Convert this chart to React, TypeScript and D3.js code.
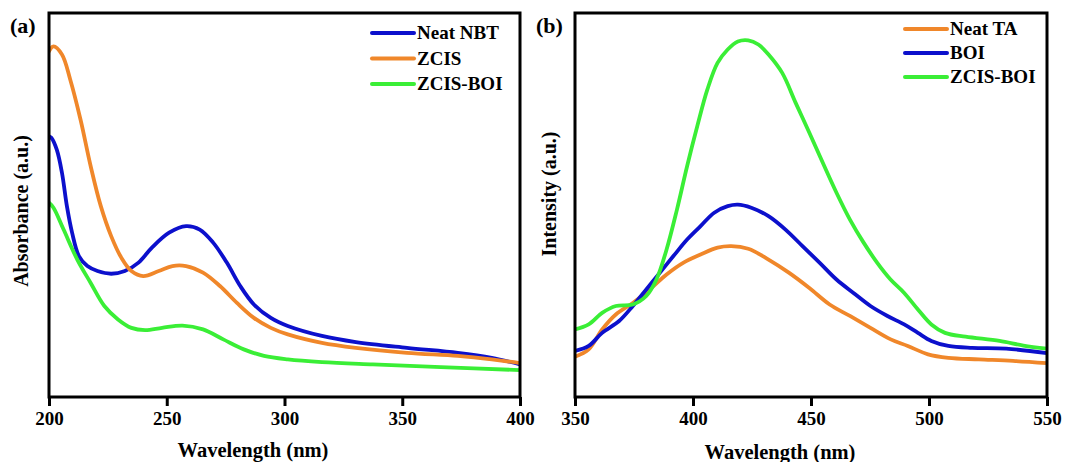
import React, { useEffect, useRef } from "react";
import * as d3 from "d3";

// ---------- Panel (a): UV-Vis absorbance ----------
const nbtX = [200, 201, 203.3, 205.5, 207.6, 209.8, 212.7, 216.3, 220.6, 226.4, 232.2, 238, 243.7, 251, 258.2, 264, 269.7, 275.5, 281.2, 287, 294.2, 301.4, 315.9, 330.3, 352, 373.6, 388, 400];
const nbtY = [0.679, 0.675, 0.644, 0.584, 0.497, 0.428, 0.367, 0.341, 0.328, 0.321, 0.328, 0.35, 0.389, 0.428, 0.445, 0.436, 0.402, 0.35, 0.289, 0.241, 0.206, 0.185, 0.159, 0.143, 0.128, 0.115, 0.102, 0.085];

const zcisX = [200, 201.9, 205.5, 209, 213.4, 217.7, 222, 226.4, 230.7, 235, 240, 246.6, 252.4, 258.2, 265.4, 272.6, 279.8, 287, 294.2, 301.4, 315.9, 330.3, 352, 373.6, 388, 400];
const zcisY = [0.9, 0.913, 0.892, 0.827, 0.722, 0.601, 0.497, 0.419, 0.363, 0.328, 0.315, 0.328, 0.341, 0.341, 0.324, 0.289, 0.245, 0.206, 0.18, 0.163, 0.141, 0.128, 0.115, 0.107, 0.098, 0.088];

const zcisBoiAX = [200, 201.9, 206.2, 212, 217.7, 223.5, 229.3, 235, 240.8, 248, 256.7, 265.4, 274, 282.7, 291.3, 301.4, 315.9, 337.5, 366.4, 400];
const zcisBoiAY = [0.506, 0.493, 0.436, 0.358, 0.297, 0.237, 0.202, 0.18, 0.174, 0.18, 0.186, 0.176, 0.15, 0.124, 0.107, 0.098, 0.091, 0.085, 0.078, 0.07];

// ---------- Panel (b): PL intensity ----------
const taX = [350, 355.8, 361.5, 367.3, 374.5, 381.7, 388.8, 396, 403.2, 410.4, 416.2, 423.4, 432, 440.6, 449.3, 457.9, 466.5, 475.2, 483.8, 491, 499.6, 508.2, 521.2, 535.6, 550];
const taY = [0.105, 0.124, 0.176, 0.215, 0.245, 0.28, 0.319, 0.35, 0.371, 0.389, 0.393, 0.386, 0.358, 0.324, 0.284, 0.241, 0.211, 0.18, 0.15, 0.133, 0.111, 0.102, 0.098, 0.094, 0.088];

const boiX = [350, 355.8, 361.5, 368.7, 374.5, 380.2, 386, 391.7, 397.5, 403.2, 409, 414.7, 419, 424.7, 432, 439.2, 446.4, 453.6, 460.8, 468, 475.2, 482.4, 489.5, 495.3, 501, 508.2, 518.3, 532.7, 550];
const boiY = [0.12, 0.133, 0.167, 0.198, 0.237, 0.28, 0.324, 0.367, 0.41, 0.445, 0.48, 0.497, 0.501, 0.493, 0.471, 0.436, 0.393, 0.35, 0.306, 0.271, 0.237, 0.211, 0.189, 0.167, 0.146, 0.133, 0.128, 0.126, 0.114];

const zcisBoiBX = [350, 355.8, 361.5, 367.3, 374.5, 380.2, 384.5, 388.8, 393.2, 397.5, 401.8, 406.1, 410.4, 414.7, 419, 423.4, 427.7, 432, 437.8, 443.5, 449.3, 455, 460.8, 466.5, 472.3, 478, 483.7, 489.5, 495.3, 501, 506.8, 515.5, 529.9, 540, 550];
const zcisBoiBY = [0.176, 0.189, 0.219, 0.237, 0.241, 0.263, 0.306, 0.384, 0.488, 0.601, 0.705, 0.801, 0.87, 0.905, 0.926, 0.929, 0.918, 0.892, 0.844, 0.766, 0.688, 0.61, 0.532, 0.462, 0.402, 0.35, 0.306, 0.271, 0.228, 0.189, 0.167, 0.157, 0.146, 0.134, 0.126];

const ticksA = [200, 250, 300, 350, 400];
const ticksB = [350, 400, 450, 500, 550];

const BLUE = "#0c10cc";
const ORANGE = "#f0872a";
const GREEN = "#3aee36";
const FONT = "'Liberation Serif', 'Times New Roman', serif";

type Series = { name: string; xs: number[]; ys: number[]; color: string };

const panels = [
  {
    id: "a",
    label: "(a)",
    labelX: 10,
    left: 49,
    right: 520,
    domain: [200, 400] as [number, number],
    ticks: ticksA,
    yTitle: "Absorbance (a.u.)",
    yTitleX: 28,
    yTitleY: 211,
    legendX: 372,
    legendY: 33,
    legendGap: 25.5,
    series: [
      { name: "Neat NBT", xs: nbtX, ys: nbtY, color: BLUE },
      { name: "ZCIS", xs: zcisX, ys: zcisY, color: ORANGE },
      { name: "ZCIS-BOI", xs: zcisBoiAX, ys: zcisBoiAY, color: GREEN },
    ] as Series[],
    xTitleX: 253,
    xTitleY: 457,
  },
  {
    id: "b",
    label: "(b)",
    labelX: 536,
    left: 575,
    right: 1047,
    domain: [350, 550] as [number, number],
    ticks: ticksB,
    yTitle: "Intensity (a.u.)",
    yTitleX: 556,
    yTitleY: 194,
    legendX: 905,
    legendY: 29,
    legendGap: 24,
    series: [
      { name: "Neat TA", xs: taX, ys: taY, color: ORANGE },
      { name: "BOI", xs: boiX, ys: boiY, color: BLUE },
      { name: "ZCIS-BOI", xs: zcisBoiBX, ys: zcisBoiBY, color: GREEN },
    ] as Series[],
    xTitleX: 780,
    xTitleY: 459,
  },
];

const TOP = 13;
const BOTTOM = 397;

function Panel({ p }: { p: (typeof panels)[number] }) {
  const axisRef = useRef<SVGGElement>(null);
  const x = d3.scaleLinear().domain(p.domain).range([p.left, p.right]);
  const y = d3.scaleLinear().domain([0, 1]).range([BOTTOM, TOP]);

  useEffect(() => {
    if (!axisRef.current) return;
    const g = d3.select(axisRef.current);
    g.selectAll("*").remove();
    g.call(d3.axisBottom(x).tickValues(p.ticks).tickSize(9).tickSizeOuter(0).tickPadding(6).tickFormat(d3.format("d")) as any);
    g.select(".domain").remove();
    g.selectAll(".tick line").attr("stroke", "#000").attr("stroke-width", 3);
    g.selectAll(".tick text")
      .attr("fill", "#000")
      .attr("font-family", FONT)
      .attr("font-weight", "bold")
      .attr("font-size", 19);
  }, []);

  const line = d3
    .line<[number, number]>()
    .x((d) => x(d[0]))
    .y((d) => y(d[1]))
    .curve(d3.curveCatmullRom.alpha(0.5));

  const clipId = `clip-${p.id}`;
  return (
    <g>
      <defs>
        <clipPath id={clipId}>
          <rect x={p.left} y={TOP} width={p.right - p.left} height={BOTTOM - TOP} />
        </clipPath>
      </defs>
      <g clipPath={`url(#${clipId})`}>
        {p.series.map((s) => (
          <path
            key={s.name}
            d={line(s.xs.map((v, i) => [v, s.ys[i]] as [number, number])) || ""}
            fill="none"
            stroke={s.color}
            strokeWidth={3.8}
            strokeLinejoin="round"
            strokeLinecap="round"
          />
        ))}
      </g>
      <rect x={p.left} y={TOP} width={p.right - p.left} height={BOTTOM - TOP} fill="none" stroke="#000" strokeWidth={3} />
      <g ref={axisRef} transform={`translate(0,${BOTTOM})`} />
      {p.series.map((s, i) => (
        <g key={s.name} transform={`translate(${p.legendX},${p.legendY + i * p.legendGap})`}>
          <line x1={0} x2={42} y1={0} y2={0} stroke={s.color} strokeWidth={4} strokeLinecap="round" />
          <text x={45} y={6} fontFamily={FONT} fontWeight="bold" fontSize={19} fill="#000">
            {s.name}
          </text>
        </g>
      ))}
      <text x={p.labelX} y={33} fontFamily={FONT} fontWeight="bold" fontSize={22} fill="#000">
        {p.label}
      </text>
      <text
        x={p.xTitleX}
        y={p.xTitleY}
        textAnchor="middle"
        fontFamily={FONT}
        fontWeight="bold"
        fontSize={20.5}
        fill="#000"
      >
        Wavelength (nm)
      </text>
      <text
        transform={`translate(${p.yTitleX},${p.yTitleY}) rotate(-90)`}
        textAnchor="middle"
        fontFamily={FONT}
        fontWeight="bold"
        fontSize={20}
        fill="#000"
      >
        {p.yTitle}
      </text>
    </g>
  );
}

export default function App() {
  return (
    <svg
      width={1065}
      height={462}
      style={{ position: "absolute", left: 0, top: 0, background: "#fff" }}
    >
      <rect width={1065} height={462} fill="#fff" />
      {panels.map((p) => (
        <Panel key={p.id} p={p} />
      ))}
    </svg>
  );
}
